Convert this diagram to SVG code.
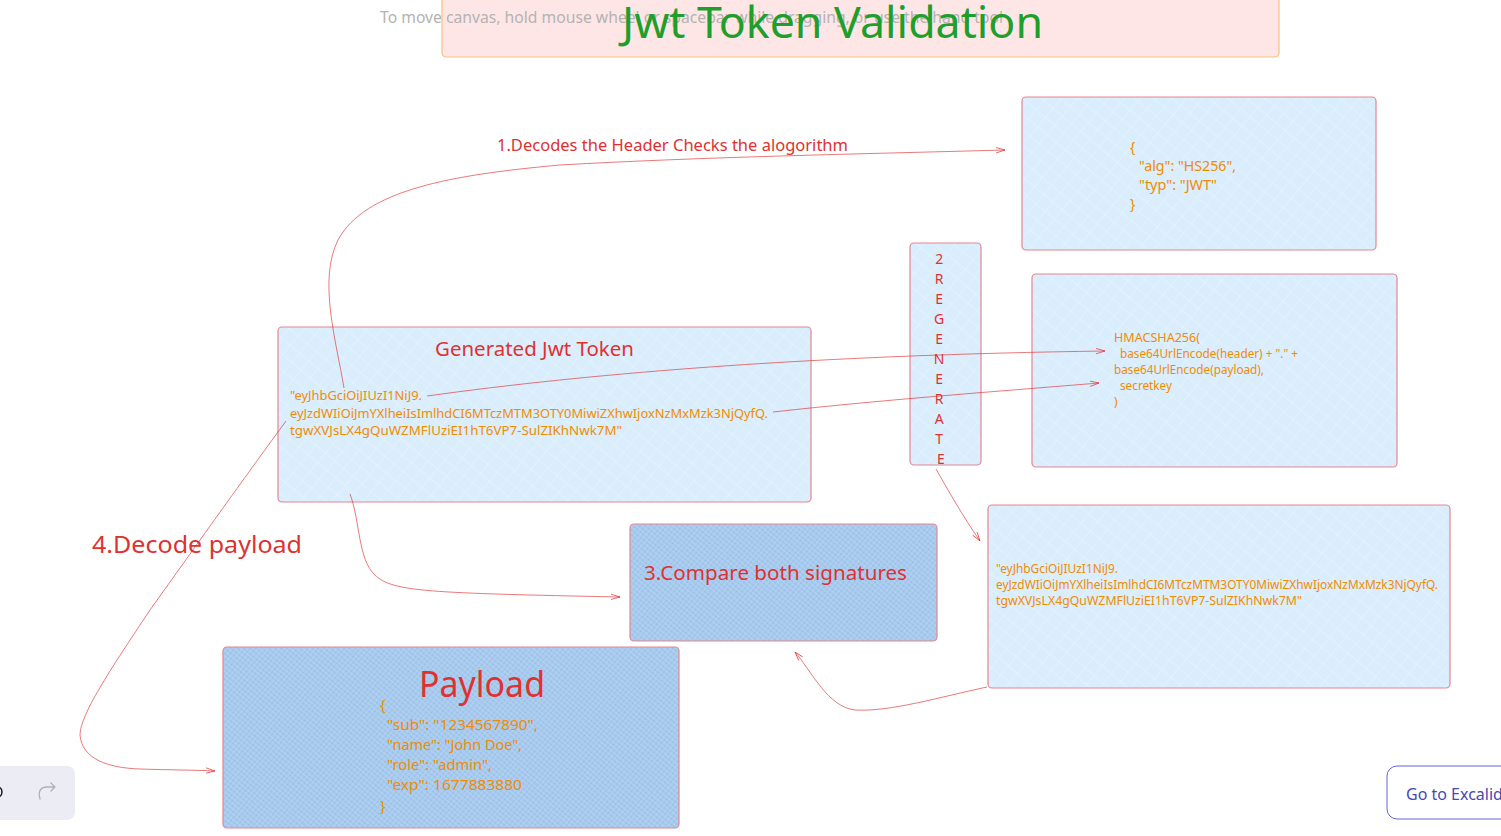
<svg xmlns="http://www.w3.org/2000/svg" width="1501" height="836" viewBox="0 0 1501 836">
<style>
.box{stroke:#e5868f;stroke-width:1.2}
.light{fill:url(#hatchLight)}
.dark{fill:url(#hatchDark)}
.t{font-family:"Noto Sans","Open Sans",sans-serif}
.or{fill:#f08c00}
.rd{fill:#e03131}
.conn path{fill:none;stroke:#e03131;stroke-opacity:0.65;stroke-width:1}
</style>
<defs>
<pattern id="hatchLight" width="12" height="12" patternUnits="userSpaceOnUse" patternTransform="rotate(40)">
<rect width="12" height="12" fill="#d9edfd"/>
<line x1="0" y1="0" x2="0" y2="12" stroke="#e9f5fe" stroke-width="1"/>
<line x1="0" y1="6" x2="12" y2="6" stroke="#e4f2fe" stroke-width="1"/>
</pattern>
<pattern id="hatchDark" width="4" height="4" patternUnits="userSpaceOnUse" patternTransform="rotate(40)">
<rect width="4" height="4" fill="#a6c9ed"/>
<line x1="0" y1="0" x2="0" y2="4" stroke="#86b3e4" stroke-width="1"/>
<line x1="0" y1="2" x2="4" y2="2" stroke="#b9d5f1" stroke-width="1"/>
</pattern>
<marker id="arr" viewBox="0 0 10 10" refX="10" refY="5" markerWidth="9" markerHeight="9" orient="auto" markerUnits="userSpaceOnUse">
<path d="M0,2 L10,5 L0,8" fill="none" stroke="#e03131" stroke-opacity="0.8" stroke-width="1"/>
</marker>
</defs>
<rect width="1501" height="836" fill="#ffffff"/>

<g id="title">
<rect x="442" y="-6" width="837" height="63" rx="4" fill="#ffe6e6" stroke="#f5c27e" stroke-width="1.2"/>
<text class="t" x="380" y="23" font-size="16" fill="#b3b3b3" textLength="623" lengthAdjust="spacingAndGlyphs">To move canvas, hold mouse wheel or spacebar while dragging, or use the hand tool</text>
<text class="t" x="622" y="38" font-size="44" fill="#1e9e2a" textLength="421" lengthAdjust="spacingAndGlyphs">Jwt  Token Validation</text>
</g>

<g id="header-box">
<rect class="box light" x="1022" y="97" width="354" height="153" rx="4"/>
<text class="t or" font-size="14">
<tspan x="1130" y="152">{</tspan>
<tspan x="1139" y="171" textLength="97" lengthAdjust="spacingAndGlyphs">"alg": "HS256",</tspan>
<tspan x="1139" y="190" textLength="78" lengthAdjust="spacingAndGlyphs">"typ": "JWT"</tspan>
<tspan x="1130" y="209">}</tspan>
</text>
</g>

<g id="regenerate">
<rect class="box light" x="910" y="243" width="71" height="222" rx="4"/>
<text class="t rd" font-size="14" text-anchor="middle">
<tspan x="941" y="264">2</tspan>
<tspan x="941" y="284">R</tspan>
<tspan x="941" y="304">E</tspan>
<tspan x="941" y="324">G</tspan>
<tspan x="941" y="344">E</tspan>
<tspan x="941" y="364">N</tspan>
<tspan x="941" y="384">E</tspan>
<tspan x="941" y="404">R</tspan>
<tspan x="941" y="424">A</tspan>
<tspan x="941" y="444">T</tspan>
<tspan x="941" y="464">E</tspan>
</text>
</g>

<g id="hmac-box">
<rect class="box light" x="1032" y="274" width="365" height="193" rx="4"/>
<text class="t or" font-size="12">
<tspan x="1114" y="342" textLength="86" lengthAdjust="spacingAndGlyphs">HMACSHA256(</tspan>
<tspan x="1120" y="358" textLength="178" lengthAdjust="spacingAndGlyphs">base64UrlEncode(header) + "." +</tspan>
<tspan x="1114" y="374" textLength="150" lengthAdjust="spacingAndGlyphs">base64UrlEncode(payload),</tspan>
<tspan x="1120" y="390" textLength="52" lengthAdjust="spacingAndGlyphs">secretkey</tspan>
<tspan x="1114" y="406">)</tspan>
</text>
</g>

<g id="generated-token">
<rect class="box light" x="278" y="327" width="533" height="175" rx="4"/>
<text class="t rd" x="435" y="356" font-size="20" textLength="199" lengthAdjust="spacingAndGlyphs">Generated Jwt Token</text>
<text class="t or" font-size="13">
<tspan x="290" y="400" textLength="132" lengthAdjust="spacingAndGlyphs">"eyJhbGciOiJIUzI1NiJ9.</tspan>
<tspan x="290" y="418" textLength="478" lengthAdjust="spacingAndGlyphs">eyJzdWIiOiJmYXlheiIsImlhdCI6MTczMTM3OTY0MiwiZXhwIjoxNzMxMzk3NjQyfQ.</tspan>
<tspan x="290" y="435" textLength="332" lengthAdjust="spacingAndGlyphs">tgwXVJsLX4gQuWZMFlUziEI1hT6VP7-SulZIKhNwk7M"</tspan>
</text>
</g>

<g id="signature-box">
<rect class="box light" x="988" y="505" width="462" height="183" rx="4"/>
<text class="t or" font-size="12">
<tspan x="996" y="573" textLength="122" lengthAdjust="spacingAndGlyphs">"eyJhbGciOiJIUzI1NiJ9.</tspan>
<tspan x="996" y="589" textLength="442" lengthAdjust="spacingAndGlyphs">eyJzdWIiOiJmYXlheiIsImlhdCI6MTczMTM3OTY0MiwiZXhwIjoxNzMxMzk3NjQyfQ.</tspan>
<tspan x="996" y="605" textLength="306" lengthAdjust="spacingAndGlyphs">tgwXVJsLX4gQuWZMFlUziEI1hT6VP7-SulZIKhNwk7M"</tspan>
</text>
</g>

<g id="compare">
<rect class="box dark" x="630" y="524" width="307" height="117" rx="4"/>
<text class="t rd" x="644" y="580" font-size="20" textLength="263" lengthAdjust="spacingAndGlyphs">3.Compare both signatures</text>
</g>

<g id="payload">
<rect class="box dark" x="223" y="647" width="456" height="181" rx="4"/>
<text class="t rd" x="419" y="697" font-size="36" textLength="126" lengthAdjust="spacingAndGlyphs">Payload</text>
<text class="t or" font-size="15">
<tspan x="380" y="710">{</tspan>
<tspan x="387" y="730" textLength="151" lengthAdjust="spacingAndGlyphs">"sub": "1234567890",</tspan>
<tspan x="387" y="750" textLength="135" lengthAdjust="spacingAndGlyphs">"name": "John Doe",</tspan>
<tspan x="387" y="770" textLength="105" lengthAdjust="spacingAndGlyphs">"role": "admin",</tspan>
<tspan x="387" y="790" textLength="135" lengthAdjust="spacingAndGlyphs">"exp": 1677883880</tspan>
<tspan x="380" y="811">}</tspan>
</text>
</g>

<g id="labels">
<text class="t rd" x="497" y="151" font-size="16" textLength="351" lengthAdjust="spacingAndGlyphs">1.Decodes the Header Checks the alogorithm</text>
<text class="t rd" x="92" y="553" font-size="24" textLength="210" lengthAdjust="spacingAndGlyphs">4.Decode payload</text>
</g>

<g id="connectors" class="conn">
<path d="M344,388 C336,340 318,280 338,240 C365,190 450,175 560,165 C700,157 860,154 1005,150" marker-end="url(#arr)"/>
<path d="M427,396 C600,372 820,355 1105,351" marker-end="url(#arr)"/>
<path d="M773,412 C880,400 990,392 1099,383" marker-end="url(#arr)"/>
<path d="M936,469 C948,490 962,515 980,541" marker-end="url(#arr)"/>
<path d="M350,494 C360,520 358,560 375,575 C392,592 430,593 620,597" marker-end="url(#arr)"/>
<path d="M987,687 C940,697 890,712 855,710 C828,707 812,672 795,652" marker-end="url(#arr)"/>
<path d="M286,421 C250,470 200,540 150,610 C110,670 80,715 80,735 C82,760 110,768 140,769 C170,770 195,770 215,771" marker-end="url(#arr)"/>
</g>

<g id="ui-undo">
<rect x="-20" y="766" width="95" height="54" rx="8" fill="#ececf4"/>
<path d="M-1,787 C3,789 3,795 -1,797" fill="none" stroke="#1b1b1f" stroke-width="1.5"/>
<path d="M40,799 C38,792 40,787 47,787 L55,787 M51,783 L55,787 L51,791" fill="none" stroke="#b0b0b8" stroke-width="1.3" stroke-linecap="round" stroke-linejoin="round"/>
</g>

<g id="ui-excalidraw">
<rect x="1387" y="766" width="140" height="53" rx="10" fill="#ffffff" stroke="#6965db" stroke-width="1"/>
<text x="1406" y="800" font-family="'Noto Sans','Open Sans',sans-serif" font-size="16" fill="#4a47b1">Go to Excalid</text>
</g>
</svg>
